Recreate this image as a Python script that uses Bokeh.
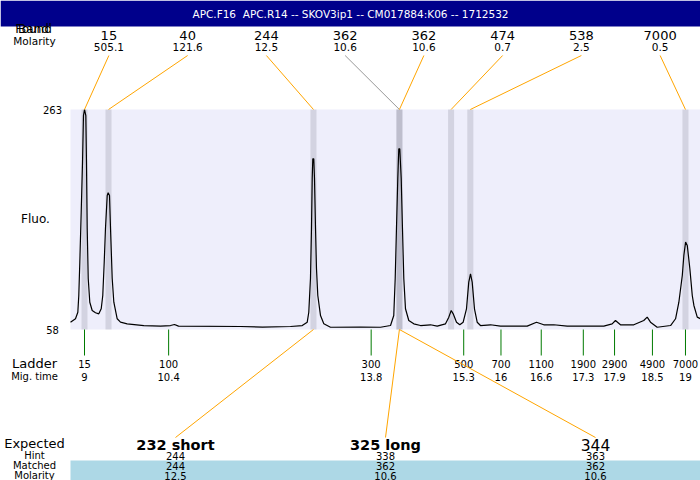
from bokeh.plotting import figure
from bokeh.models import Range1d
from bokeh.core.properties import value
from bokeh.embed import file_html
from bokeh.resources import INLINE

TITLE = "APC.F16\u00a0\u00a0APC.R14 -- SKOV3ip1 -- CM017884:K06 -- 1712532"

# ---------------- data ----------------
trace_mig = [8.767, 8.850, 8.889, 8.905, 8.922, 8.945, 8.967, 8.983, 9.000, 9.022,
             9.033, 9.045, 9.062, 9.088, 9.128, 9.183, 9.238, 9.278, 9.304, 9.328,
             9.349, 9.378, 9.394, 9.416, 9.433, 9.461, 9.488, 9.544, 9.599, 9.710,
             9.987, 10.265, 10.431, 10.497, 10.564, 11.596, 11.962, 12.428, 12.623, 12.706,
             12.732, 12.760, 12.777, 12.789, 12.799, 12.815, 12.827, 12.844, 12.860, 12.882,
             12.927, 12.982, 13.093, 13.592, 13.925, 14.092, 14.146, 14.170, 14.191, 14.213,
             14.230, 14.246, 14.270, 14.291, 14.313, 14.341, 14.396, 14.479, 14.591, 14.757,
             14.869, 15.007, 15.062, 15.102, 15.135, 15.190, 15.245, 15.301, 15.356, 15.394,
             15.423, 15.451, 15.489, 15.534, 15.589, 15.755, 15.922, 16.366, 16.521, 16.642,
             16.809, 17.032, 17.364, 17.641, 17.780, 17.835, 17.918, 18.140, 18.306, 18.363,
             18.418, 18.529, 18.752, 18.835, 18.890, 18.947, 18.973, 19.002, 19.030, 19.073,
             19.113, 19.140, 19.196, 19.250]
trace_fluo = [64.8, 68.0, 74.1, 89.7, 120.7, 167.3, 213.9, 257.4, 263.0, 257.4,
              213.9, 152.1, 105.5, 83.4, 75.7, 73.6, 72.6, 77.3, 89.7, 120.7,
              152.1, 182.9, 185.4, 182.9, 152.1, 105.5, 83.4, 68.0, 64.8, 63.3,
              61.7, 61.1, 61.7, 62.7, 61.1, 60.8, 60.3, 60.8, 61.7, 64.8,
              74.1, 105.5, 152.1, 198.7, 217.1, 217.1, 198.7, 152.1, 114.9, 89.7,
              71.0, 63.3, 60.1, 60.3, 60.1, 61.7, 71.0, 105.5, 152.1, 198.7,
              226.4, 226.4, 198.7, 152.1, 105.5, 77.3, 66.4, 63.3, 61.7, 62.4,
              61.1, 63.3, 69.5, 75.7, 72.6, 64.8, 62.4, 64.8, 77.3, 102.1,
              109.9, 102.1, 77.3, 64.8, 61.7, 62.4, 61.1, 61.1, 64.8, 62.4,
              62.4, 61.1, 61.1, 61.1, 63.3, 66.4, 62.4, 62.4, 66.4, 69.5,
              64.8, 60.1, 61.7, 68.0, 83.4, 108.3, 127.0, 139.4, 136.3, 114.6,
              89.7, 80.4, 69.5, 68.0]

band_size = ["15", "40", "244", "362", "362", "474", "538", "7000"]
band_molarity = ["505.1", "121.6", "12.5", "10.6", "10.6", "0.7", "2.5", "0.5"]
band_mig = [9.0, 9.40, 12.81, 14.24, 14.24, 15.10, 15.42, 19.0]

ladder_size = ["15", "100", "300", "500", "700", "1100", "1900", "2900", "4900", "7000"]
ladder_mig_label = ["9", "10.4", "13.8", "15.3", "16", "16.6", "17.3", "17.9", "18.5", "19"]
ladder_mig = [9.0, 10.40, 13.77, 15.31, 15.93, 16.60, 17.30, 17.82, 18.45, 19.0]

expected = ["232 short", "325 long", "344"]
hint = ["244", "338", "363"]
matched = ["244", "362", "362"]
matched_molarity = ["12.5", "10.6", "10.6"]
matched_mig = [12.81, 14.24, 14.24]

FLUO_MIN, FLUO_MAX = 58, 263
MIG_MIN, MIG_MAX = 8.767, 19.25

# ---------------- layout (pixel grid 700x480) ----------------
W, H = 700, 480
BOX_L, BOX_T, BOX_R, BOX_B = 70, 109, 700, 329

kx = (MIG_MAX - MIG_MIN) / (BOX_R - BOX_L)
ky = (FLUO_MAX - FLUO_MIN) / (BOX_B - BOX_T)
x_start = MIG_MIN - BOX_L * kx
x_end = MIG_MAX + (W - BOX_R) * kx
y_top = FLUO_MAX + BOX_T * ky
y_bot = FLUO_MIN - (H - BOX_B) * ky


def X(px):
    return x_start + px * kx


def Y(py):
    return y_top - py * ky


FONT = value("DejaVu Sans")

p = figure(width=W, height=H, x_range=Range1d(x_start, x_end), y_range=Range1d(y_bot, y_top),
           output_backend="svg", toolbar_location=None, min_border=0,
           x_axis_type=None, y_axis_type=None)
p.grid.visible = False
p.outline_line_color = None
p.background_fill_color = "white"
p.border_fill_color = "white"


def txt(xs, ys, texts, size, color="black", style="normal", align="center"):
    p.text(x=xs, y=ys, text=texts, text_font=FONT, text_font_size=value(size),
           text_color=color, text_font_style=style, text_align=align,
           text_baseline="middle")


# title bar
p.quad(left=[x_start], right=[x_end], top=[y_top], bottom=[Y(26)], fill_color="#00008B", line_color=None)
txt([X(350)], [Y(13)], [TITLE], "10.5px", color="white")

# plot box
p.quad(left=[MIG_MIN], right=[MIG_MAX], top=[FLUO_MAX], bottom=[FLUO_MIN],
       fill_color="#EEEEFB", line_color=None)

# found bands (semi-transparent, duplicates overlap darker)
half = 3 * kx
p.quad(left=[m - half for m in band_mig], right=[m + half for m in band_mig],
       top=FLUO_MAX, bottom=FLUO_MIN, fill_color="#7F7F8F", fill_alpha=0.24, line_color=None)

# trace
p.line(trace_mig, trace_fluo, line_color="black", line_width=1.2)

# top band labels and connectors
n = len(band_size)
slot_w = (BOX_R - BOX_L) / n
slot_x = [X(BOX_L + slot_w * (i + 0.5) - 1) for i in range(n)]
top_colors = ["orange", "orange", "orange", "#999999", "orange", "orange", "orange", "orange"]
p.segment(x0=slot_x, y0=[Y(55)] * n, x1=band_mig, y1=[FLUO_MAX] * n,
          line_color=top_colors, line_width=1)
txt(slot_x, [Y(34.5)] * n, band_size, "13px")
txt(slot_x, [Y(46.5)] * n, band_molarity, "10.5px")

# left labels
txt([X(33)], [Y(28.5)], ["Found"], "12px")
txt([X(33)], [Y(28.5)], ["Band"], "12px")
txt([X(34)], [Y(40.5)], ["Molarity"], "10.5px")
txt([X(35)], [Y(218)], ["Fluo."], "12px")
txt([X(52), X(52)], [FLUO_MAX, FLUO_MIN], [str(FLUO_MAX), str(FLUO_MIN)], "10px")

# ladder
m = len(ladder_size)
p.segment(x0=ladder_mig, y0=[FLUO_MIN] * m, x1=ladder_mig, y1=[Y(355)] * m,
          line_color="#007A00", line_width=1)
txt([X(34)], [Y(363)], ["Ladder"], "13px")
txt([X(34)], [Y(376)], ["Mig. time"], "10px")
txt(ladder_mig, [Y(363)] * m, ladder_size, "10px")
txt(ladder_mig, [Y(376)] * m, ladder_mig_label, "10px")

# expected / matched table
e = len(expected)
ew = (BOX_R - BOX_L) / e
ex = [X(BOX_L + ew * (i + 0.5)) for i in range(e)]
p.quad(left=[MIG_MIN], right=[MIG_MAX], top=[Y(460)], bottom=[Y(480)],
       fill_color="#ADD8E6", line_color=None)
p.segment(x0=matched_mig, y0=[FLUO_MIN] * e, x1=ex, y1=[Y(437)] * e,
          line_color="orange", line_width=1)
exp_styles = ["bold", "bold", "normal"]
exp_sizes = ["14.5px", "14.5px", "15.5px"]
for i in range(e):
    txt([ex[i]], [Y(444)], [expected[i]], exp_sizes[i], style=exp_styles[i])
txt(ex, [Y(455)] * e, hint, "10px")
txt(ex, [Y(465)] * e, matched, "10px")
txt(ex, [Y(475)] * e, matched_molarity, "10px")
txt([X(34)], [Y(443)], ["Expected"], "13px")
txt([X(34)], [Y(455)], ["Hint"], "10px")
txt([X(34)], [Y(465)], ["Matched"], "10px")
txt([X(34)], [Y(475)], ["Molarity"], "10px")

open("out.html", "w").write(file_html(p, INLINE))
